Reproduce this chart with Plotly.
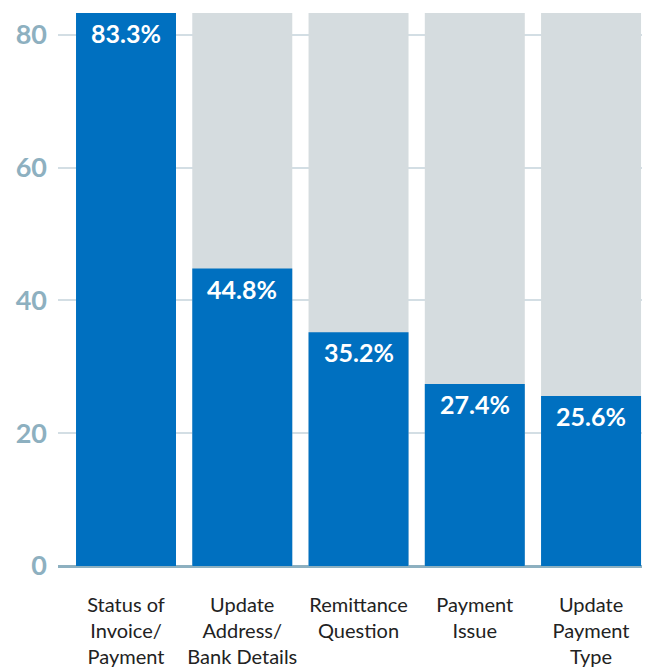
import plotly.graph_objects as go

categories = ["Status of<br>Invoice/<br>Payment", "Update<br>Address/<br>Bank Details",
              "Remittance<br>Question", "Payment<br>Issue", "Update<br>Payment<br>Type"]
values = [83.3, 44.8, 35.2, 27.4, 25.6]
background = [83.3, 83.3, 83.3, 83.3, 83.3]
labels = ["83.3%", "44.8%", "35.2%", "27.4%", "25.6%"]
y_ticks = [0, 20, 40, 60, 80]

x = list(range(len(categories)))

fig = go.Figure()
fig.add_trace(go.Bar(x=x, y=background, marker=dict(color="#D5DCDF", line=dict(width=0)),
                     hoverinfo="skip", showlegend=False))
fig.add_trace(go.Bar(x=x, y=values, marker=dict(color="#0070C0", line=dict(width=0)),
                     showlegend=False))

for xi, v, lab in zip(x, values, labels):
    fig.add_annotation(x=xi, y=v, text=lab, showarrow=False, yanchor="middle",
                       yshift=-20, font=dict(family="Lato", size=25, color="white", weight="bold"))

fig.update_layout(
    width=650, height=669,
    margin=dict(l=50, r=8, t=5, b=111, autoexpand=False),
    barmode="overlay", bargap=0.14,
    plot_bgcolor="white", paper_bgcolor="white",
    font=dict(family="Lato"),
)
fig.update_xaxes(
    tickmode="array", tickvals=x, ticktext=categories,
    range=[-0.585, 4.507], showgrid=False, zeroline=False, showline=False,
    tickfont=dict(family="Lato", size=20, color="#222222"),
    ticks="", ticklabelstandoff=25, automargin=False,
)
fig.update_yaxes(
    range=[0, 83.3], tickvals=y_ticks,
    showgrid=True, gridcolor="#D3DEE4", gridwidth=2,
    zeroline=True, zerolinecolor="#8DB0C0", zerolinewidth=3,
    showline=False, ticks="",
    tickfont=dict(family="Lato", size=27, color="#8DB0C0", weight="bold"),
    ticklabelstandoff=10, automargin=False,
)

fig.write_html("out.html")
